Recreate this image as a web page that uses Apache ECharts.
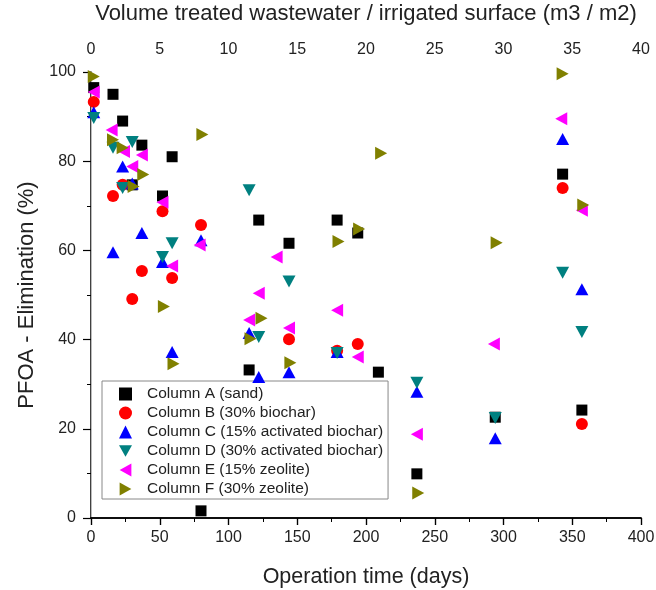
<!DOCTYPE html>
<html lang="en">
<head>
  <meta charset="utf-8">
  <title>PFOA elimination</title>
  <script src="https://cdn.jsdelivr.net/npm/echarts@6/dist/echarts.min.js"></script>
  <style>
    html, body { margin: 0; padding: 0; background: #fff; }
    #chart { width: 656px; height: 590px; }
  </style>
</head>
<body>
<div id="chart"></div>
<script type="text/javascript">
// series data: operation day / elimination %
var daysA = [2, 16, 23, 30, 37, 52, 59, 80, 115, 122, 144, 179, 194, 209, 237, 294, 343, 357];
var elimA = [96.5, 95, 89, 74.7, 83.6, 72.2, 81, 1.6, 33.2, 66.8, 61.6, 66.8, 63.9, 32.7, 9.9, 22.6, 77.1, 24.2];

var daysB = [2, 16, 23, 30, 37, 52, 59, 80, 144, 179, 194, 343, 357];
var elimB = [93.3, 72.2, 74.7, 49.1, 55.4, 68.8, 53.8, 65.7, 40.1, 37.5, 39, 74, 21.1];

var daysC = [2, 16, 23, 30, 37, 52, 59, 80, 115, 122, 144, 179, 237, 294, 343, 357];
var elimC = [91, 59.6, 78.8, 75, 63.9, 57.4, 37.2, 62.3, 41.5, 31.6, 32.7, 37.2, 28.3, 17.9, 85, 51.3];

var daysD = [2, 16, 23, 30, 52, 59, 115, 122, 144, 179, 237, 294, 343, 357];
var elimD = [89.7, 83, 74, 84.3, 58.5, 61.6, 73.5, 40.6, 53, 37, 30.3, 22.4, 55, 41.7];

var daysE = [2, 15, 24, 30, 37, 52, 59, 79, 115, 122, 135, 144, 179, 194, 237, 293, 342, 357];
var elimE = [95.5, 87, 82.2, 78.8, 81.4, 70.8, 56.5, 61.2, 44.4, 50.4, 58.5, 42.6, 46.6, 36.1, 18.8, 39, 89.5, 69];

var daysF = [2, 16, 23, 31, 38, 53, 60, 81, 116, 124, 145, 180, 195, 211, 238, 295, 343, 358];
var elimF = [99, 84.8, 83, 74.3, 77, 47.4, 34.6, 86, 40.2, 44.8, 34.8, 62, 64.8, 81.8, 5.6, 61.7, 99.6, 70.2];

var seriesNames = ['Column A (sand)', 'Column B (30% biochar)', 'Column C (15% activated biochar)',
  'Column D (30% activated biochar)', 'Column E (15% zeolite)', 'Column F (30% zeolite)'];
var seriesColors = ['#000000', '#ff0000', '#0000ff', '#008080', '#ff00ff', '#808000'];

var FONT = "'Liberation Sans', Arial, sans-serif";

function pairs(d, v) {
  var out = [];
  for (var i = 0; i < d.length; i++) out.push([d[i], v[i]]);
  return out;
}

var allData = [pairs(daysA, elimA), pairs(daysB, elimB), pairs(daysC, elimC),
  pairs(daysD, elimD), pairs(daysE, elimE), pairs(daysF, elimF)];
var symbols = ['rect', 'circle', 'triangle',
  'path://M0,0L10,0L5,9Z', 'path://M10,0L10,10L1,5Z', 'path://M0,0L9,5L0,10Z'];
var sizes = [11, 12, [13, 12], [13, 12], [12, 13], [12, 13]];

var series = [];
for (var i = 0; i < 6; i++) {
  series.push({
    name: seriesNames[i],
    type: 'scatter',
    data: allData[i],
    symbol: symbols[i],
    symbolSize: sizes[i],
    itemStyle: { color: seriesColors[i], opacity: 1 },
    z: 2 + i
  });
}

var chart = echarts.init(document.getElementById('chart'));
var option = {
  animation: false,
  backgroundColor: '#fff',
  textStyle: { fontFamily: FONT },
  grid: { left: 91, right: 15, top: 72, bottom: 72, outerBoundsMode: 'none', containLabel: false },
  legend: {
    orient: 'vertical',
    left: 102,
    top: 381,
    data: seriesNames,
    itemWidth: 13,
    itemHeight: 13,
    itemGap: 3,
    padding: [5, 5, 2, 17],
    borderColor: '#888',
    borderWidth: 1,
    formatter: function (name) { return '{g|}' + name; },
    textStyle: {
      fontFamily: FONT, fontSize: 15.5, color: '#222',
      rich: { g: { width: 10 } }
    }
  },
  xAxis: [
    {
      type: 'value', position: 'bottom', min: 0, max: 400, interval: 50,
      name: 'Operation time (days)', nameLocation: 'middle', nameGap: 48,
      nameTextStyle: { fontFamily: FONT, fontSize: 21.5, color: '#222' },
      axisLine: { lineStyle: { color: '#000', width: 1.5 } },
      axisTick: { inside: false, length: 7, lineStyle: { color: '#000', width: 1.2 } },
      minorTick: { show: true, splitNumber: 2, length: 4, lineStyle: { color: '#000' } },
      axisLabel: { fontFamily: FONT, fontSize: 16, color: '#222', margin: 12 },
      splitLine: { show: false }
    },
    {
      type: 'value', position: 'top', min: 0, max: 40, interval: 5,
      name: 'Volume treated wastewater / irrigated surface (m3 / m2)',
      nameLocation: 'middle', nameGap: 47,
      nameTextStyle: { fontFamily: FONT, fontSize: 22, color: '#222' },
      axisLine: { lineStyle: { color: '#000', width: 1.5 } },
      axisTick: { inside: true, length: 7, lineStyle: { color: '#000', width: 1.2 } },
      minorTick: { show: true, splitNumber: 2, length: 4, lineStyle: { color: '#000' } },
      axisLabel: { fontFamily: FONT, fontSize: 16, color: '#222', margin: 14 },
      splitLine: { show: false }
    }
  ],
  yAxis: [
    {
      type: 'value', position: 'left', min: 0, max: 100, interval: 20,
      name: 'PFOA - Elimination (%)', nameLocation: 'middle', nameGap: 47,
      nameTextStyle: { fontFamily: FONT, fontSize: 22, color: '#222' },
      axisLine: { show: true, lineStyle: { color: '#000', width: 1.5 } },
      axisTick: { show: true, inside: false, length: 8, lineStyle: { color: '#000', width: 1.2 } },
      minorTick: { show: true, splitNumber: 2, length: 4, lineStyle: { color: '#000' } },
      axisLabel: { fontFamily: FONT, fontSize: 16, color: '#222', margin: 15 },
      splitLine: { show: false }
    },
    {
      type: 'value', position: 'right', min: 0, max: 100,
      axisLine: { show: true, lineStyle: { color: '#bbb', width: 1 } },
      axisTick: { show: false },
      axisLabel: { show: false },
      splitLine: { show: false }
    }
  ],
  series: series
};
chart.setOption(option);
</script>
</body>
</html>
